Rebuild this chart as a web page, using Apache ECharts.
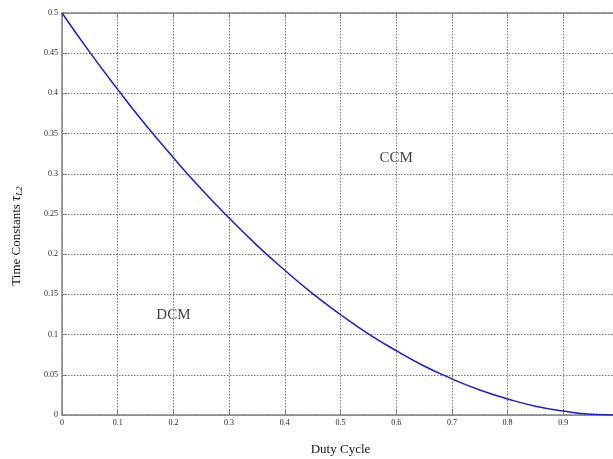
<!DOCTYPE html>
<html><head><meta charset="utf-8">
<script src="https://cdn.jsdelivr.net/npm/echarts@6/dist/echarts.min.js"></script>
<style>html,body{margin:0;padding:0;background:#fff}#c{width:613px;height:459px}</style>
</head><body><div id="c"></div>
<script>
const dutyCycle = [0,0.05,0.1,0.15,0.2,0.25,0.3,0.35,0.4,0.45,0.5,0.55,0.6,0.65,0.7,0.75,0.8,0.85,0.9,0.95,1];
const tauL2 = [0.5,0.451,0.405,0.361,0.32,0.281,0.245,0.211,0.18,0.151,0.125,0.101,0.08,0.061,0.045,0.031,0.02,0.011,0.005,0.001,0];
const regionLabels = [{name:'CCM', x:0.6, y:0.32},{name:'DCM', x:0.2, y:0.124}];
const xTicks = [0,0.1,0.2,0.3,0.4,0.5,0.6,0.7,0.8,0.9];
const yTicks = [0,0.05,0.1,0.15,0.2,0.25,0.3,0.35,0.4,0.45,0.5];

const serif = '"Liberation Serif","DejaVu Serif",serif';
const chart = echarts.init(document.getElementById('c'));
const axisLine = {show:true, lineStyle:{color:'#808080', width:1.5}};
const grid = {show:true, lineStyle:{color:'#777', type:[1.5,1.5], width:1}};
chart.setOption({
  animation:false,
  grid:{left:62, top:13, right:-6, bottom:44, containLabel:false, outerBoundsMode:'none'},
  xAxis:[{
    type:'value', min:0, max:1, interval:0.1, position:'bottom',
    axisLine, axisTick:{show:true, inside:true, length:5, lineStyle:{color:'#808080'}},
    splitLine:grid,
    axisLabel:{fontFamily:serif, fontSize:8, color:'#222', margin:4,
      formatter:v=> xTicks.some(t=>Math.abs(t-v)<1e-9) ? String(+v.toFixed(2)) : ''},
    name:'Duty Cycle', nameLocation:'middle', nameGap:28,
    nameTextStyle:{fontFamily:serif, fontSize:13, color:'#111'}
  },{
    type:'value', min:0, max:1, interval:0.1, position:'top',
    axisLine, axisTick:{show:true, inside:true, length:5, lineStyle:{color:'#808080'}},
    axisLabel:{show:false}, splitLine:{show:false}
  }],
  yAxis:{
    type:'value', min:0, max:0.5, interval:0.05,
    axisLine, axisTick:{show:true, inside:true, length:5, lineStyle:{color:'#808080'}},
    splitLine:grid,
    axisLabel:{fontFamily:serif, fontSize:8, color:'#222', margin:4,
      formatter:v=> yTicks.some(t=>Math.abs(t-v)<1e-9) ? String(+v.toFixed(2)) : ''},
    name:'{a|Time Constants }{b|τ}{c|L2}', nameLocation:'middle', nameGap:38, nameRotate:90,
    nameTextStyle:{fontFamily:serif, fontSize:13, color:'#111', padding:[0,44,0,0],
      rich:{a:{fontFamily:serif,fontSize:13,color:'#111'},
            b:{fontFamily:serif,fontSize:14,fontStyle:'italic',color:'#111'},
            c:{fontFamily:serif,fontSize:9,fontStyle:'italic',color:'#111',verticalAlign:'bottom',padding:[6,0,0,0]}}}
  },
  series:[{
    type:'line', data:dutyCycle.map((d,i)=>[d,tauL2[i]]), smooth:true,
    showSymbol:false, lineStyle:{color:'#1a1adf', width:1.5}, z:5
  },{
    type:'scatter', data:regionLabels.map(r=>({name:r.name, value:[r.x,r.y]})),
    symbolSize:0, silent:true,
    label:{show:true, position:'inside', formatter:'{b}', fontFamily:serif, fontSize:15, color:'#111'}
  }]
});
</script></body></html>
